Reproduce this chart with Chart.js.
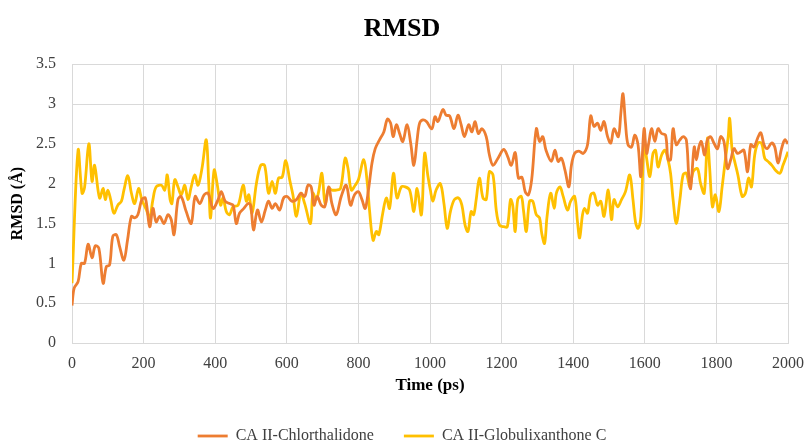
<!DOCTYPE html>
<html>
<head>
<meta charset="utf-8">
<script src="https://cdn.jsdelivr.net/npm/chart.js@4.4.1/dist/chart.umd.min.js"></script>
<style>
  html, body { margin: 0; padding: 0; background: #ffffff; }
  #wrap { width: 804px; height: 444px; }
</style>
</head>
<body>
<div id="wrap"><canvas id="c" width="804" height="444"></canvas></div>
<script>
const chartTitle = "RMSD";
const xAxisTitle = "Time (ps)";
const yAxisTitle = "RMSD (Å)";
const seriesNames = ["CA II-Chlorthalidone", "CA II-Globulixanthone C"];
const seriesColors = ["#ED7D31", "#FFC000"];
const xTicks = [0, 200, 400, 600, 800, 1000, 1200, 1400, 1600, 1800, 2000];
const yTicks = [0, 0.5, 1, 1.5, 2, 2.5, 3, 3.5];

// CA II-Chlorthalidone
const timeA = [0,6,17,26,35,45,56,65,75,87,96,105,114,124,133,145,155,166,175,184,195,205,217,226,235,245,257,268,277,285,296,305,319,
333,344,357,369,380,394,408,417,428,440,450,459,468,480,492,499,507,518,529,540,549,559,568,580,591,601,614,627,639,650,
659,668,676,685,696,706,717,726,738,752,766,778,789,800,810,819,828,838,847,859,871,881,890,897,906,915,924,936,946,955,964,971,980,990,
1005,1014,1022,1036,1045,1055,1067,1078,1087,1096,1108,1117,1126,1135,1145,1157,1166,1176,1190,1206,1217,1227,1238,1247,1257,1266,1275,1284,1297,1306,1315,1324,
1339,1349,1358,1367,1377,1388,1395,1404,1416,1428,1440,1449,1458,1468,1477,1486,1496,1505,1514,1526,1533,1539,1546,1553,1563,1572,1581,1589,1598,1605,1611,1619,1628,1637,1647,1658,1665,1672,
1679,1688,1698,1707,1716,1723,1728,1738,1744,1751,1758,1767,1775,1784,1793,1803,1812,1821,1831,1840,1849,1859,1868,1877,1887,1896,1905,1915,1924,1933,1942,1954,1963,1972,1982,1991,2000];
const rmsdA = [0.47,0.69,0.77,1.0,1.0,1.24,1.07,1.22,1.19,0.75,0.96,0.98,1.34,1.36,1.21,1.04,1.29,1.59,1.57,1.61,1.8,1.82,1.46,1.69,1.52,1.59,1.5,1.61,1.55,1.36,1.8,1.84,1.65,
1.5,1.84,1.75,1.86,1.88,1.69,1.8,1.9,1.78,1.75,1.73,1.5,1.63,1.69,1.75,1.73,1.42,1.67,1.52,1.67,1.78,1.69,1.75,1.67,1.82,1.84,1.78,1.8,1.88,1.84,
1.98,1.96,1.73,1.84,1.73,1.71,1.96,1.75,1.61,1.84,1.98,1.73,1.86,1.9,1.8,1.69,1.92,2.26,2.44,2.55,2.65,2.81,2.76,2.59,2.74,2.63,2.53,2.74,2.51,2.23,2.55,2.76,2.8,2.78,
2.69,2.84,2.78,2.93,2.86,2.85,2.69,2.86,2.74,2.59,2.74,2.65,2.78,2.63,2.69,2.59,2.36,2.23,2.32,2.43,2.34,2.23,2.39,2.07,2.08,1.9,1.86,2.05,2.69,2.53,2.59,2.42,
2.28,2.42,2.28,2.32,2.17,1.96,2.23,2.38,2.41,2.38,2.49,2.85,2.72,2.76,2.67,2.78,2.59,2.51,2.69,2.59,2.88,3.13,2.76,2.49,2.46,2.61,2.49,2.09,2.69,2.38,2.51,2.69,2.53,2.69,2.63,2.61,2.3,2.3,
2.69,2.49,2.55,2.59,2.55,2.09,1.94,2.46,2.3,2.46,2.53,2.36,2.55,2.59,2.51,2.44,2.59,2.53,2.19,2.3,2.44,2.38,2.4,2.42,2.15,2.49,2.46,2.57,2.64,2.49,2.44,2.51,2.46,2.26,2.44,2.55,2.5];

// CA II-Globulixanthone C
const timeB = [0,17,28,35,47,56,63,77,87,93,100,108,117,128,138,145,156,166,175,186,195,208,217,226,235,250,259,266,274,279,287,296,305,315,324,
333,343,352,363,375,382,387,397,406,415,422,431,440,450,464,478,487,494,503,515,527,538,549,559,568,577,587,597,608,617,627,639,650,
666,673,682,689,698,707,717,726,738,750,763,771,780,791,800,815,825,831,841,850,857,868,878,887,898,908,920,931,943,955,964,976,985,994,
1001,1008,1017,1029,1039,1048,1057,1068,1080,1089,1098,1106,1115,1122,1129,1138,1148,1157,1166,1176,1185,1194,1206,1216,1225,1231,1238,1245,1255,1261,1269,1278,1287,1297,1306,1312,1320,1327,1337,
1347,1353,1363,1372,1384,1393,1404,1412,1418,1426,1432,1440,1449,1458,1468,1477,1486,1498,1507,1514,1524,1535,1546,1558,1567,1574,1581,1589,1598,1605,1614,1623,1630,1637,1647,1656,1665,1672,
1679,1688,1698,1707,1716,1726,1735,1747,1756,1766,1775,1781,1789,1797,1807,1816,1825,1833,1837,1844,1851,1860,1872,1881,1890,1898,1907,1916,1926,1935,1944,1955,1965,1977,1986,2000];
const rmsdB = [0.75,2.42,1.88,1.95,2.5,2.03,2.23,1.82,1.94,1.8,1.92,1.8,1.63,1.73,1.78,1.92,2.1,1.88,1.75,1.94,1.8,1.67,1.57,1.8,1.96,1.98,1.92,2.11,1.8,1.75,2.05,1.96,1.86,1.98,1.8,
1.96,2.11,1.98,2.19,2.55,2.0,1.57,2.17,1.98,1.73,1.82,1.65,1.61,1.71,1.73,1.98,1.78,1.86,1.63,2.0,2.23,2.23,1.88,2.03,1.88,2.07,2.08,2.29,2.05,1.86,1.59,1.88,1.75,
1.5,1.88,1.8,1.9,2.13,1.75,1.94,1.92,1.92,1.94,2.32,2.19,1.92,1.98,2.05,2.3,2.0,1.67,1.29,1.4,1.36,1.63,1.82,1.69,2.13,1.82,1.96,1.96,1.92,1.65,1.94,1.61,2.38,2.1,
1.92,1.78,1.92,2.0,1.75,1.44,1.65,1.8,1.82,1.73,1.48,1.4,1.65,1.61,1.8,2.07,1.82,1.8,2.15,2.11,1.67,1.48,1.46,1.46,1.8,1.73,1.4,1.8,1.84,1.67,1.4,1.78,1.78,1.61,1.57,1.38,1.25,1.59,1.88,
1.69,1.88,1.96,1.84,1.67,1.78,1.84,1.52,1.32,1.61,1.69,1.63,1.86,1.88,1.73,1.78,1.59,1.92,1.55,1.8,1.71,1.8,1.9,2.11,1.8,1.52,1.44,1.59,2.51,2.32,2.09,2.38,2.42,2.21,2.36,2.42,2.3,2.13,
1.8,1.5,1.8,2.11,2.13,1.96,2.15,2.19,2.0,1.88,2.57,2.21,1.71,1.86,1.65,1.96,2.3,2.59,2.82,2.42,2.28,2.11,1.84,1.88,2.07,1.96,2.36,2.51,2.51,2.32,2.28,2.23,2.17,2.13,2.23,2.4];

const toPoints = (xs, ys) => xs.map((x, i) => ({ x: x, y: ys[i] }));

const serif = "'Liberation Serif', 'Times New Roman', serif";

new Chart(document.getElementById('c'), {
  type: 'line',
  data: {
    datasets: [
      { label: seriesNames[0], data: toPoints(timeA, rmsdA), borderColor: seriesColors[0], backgroundColor: seriesColors[0], borderWidth: 2.8, pointRadius: 0, tension: 0.35, fill: false },
      { label: seriesNames[1], data: toPoints(timeB, rmsdB), borderColor: seriesColors[1], backgroundColor: seriesColors[1], borderWidth: 2.8, pointRadius: 0, tension: 0.35, fill: false }
    ]
  },
  options: {
    responsive: false,
    animation: false,
    devicePixelRatio: 1,
    layout: { padding: { top: 10, right: 0, left: 0, bottom: -10 } },
    plugins: {
      title: {
        display: true, text: chartTitle, color: '#000000',
        font: { family: serif, size: 26, weight: 'bold' },
        padding: { top: 4, bottom: 19 }
      },
      legend: {
        display: true, position: 'bottom',
        labels: {
          usePointStyle: true, pointStyle: 'line', pointStyleWidth: 30,
          color: '#404040', padding: 30,
          font: { family: serif, size: 16 }
        }
      },
      tooltip: { enabled: false }
    },
    scales: {
      x: {
        type: 'linear', min: 0, max: 2000,
        afterBuildTicks: (s) => { s.ticks = xTicks.map(v => ({ value: v })); },
        afterFit: (s) => { s.height = 55; s.paddingRight = 16; },
        grid: { color: '#d9d9d9', drawTicks: false },
        border: { color: '#d9d9d9' },
        ticks: { color: '#404040', padding: 11, maxRotation: 0, font: { family: serif, size: 16 }, callback: (v) => String(v) },
        title: { display: true, text: xAxisTitle, color: '#000000', font: { family: serif, size: 17, weight: 'bold' }, padding: { top: 0, bottom: 2 } }
      },
      y: {
        type: 'linear', min: 0, max: 3.5,
        afterBuildTicks: (s) => { s.ticks = yTicks.map(v => ({ value: v })); },
        afterFit: (s) => { s.width = 72; },
        grid: { color: '#d9d9d9', drawTicks: false },
        border: { color: '#d9d9d9' },
        ticks: { color: '#404040', padding: 16, font: { family: serif, size: 16 }, callback: (v) => String(v) },
        title: { display: true, text: yAxisTitle, color: '#000000', font: { family: serif, size: 16, weight: 'bold' }, padding: { top: 8, bottom: 0 } }
      }
    }
  }
});
</script>
</body>
</html>
